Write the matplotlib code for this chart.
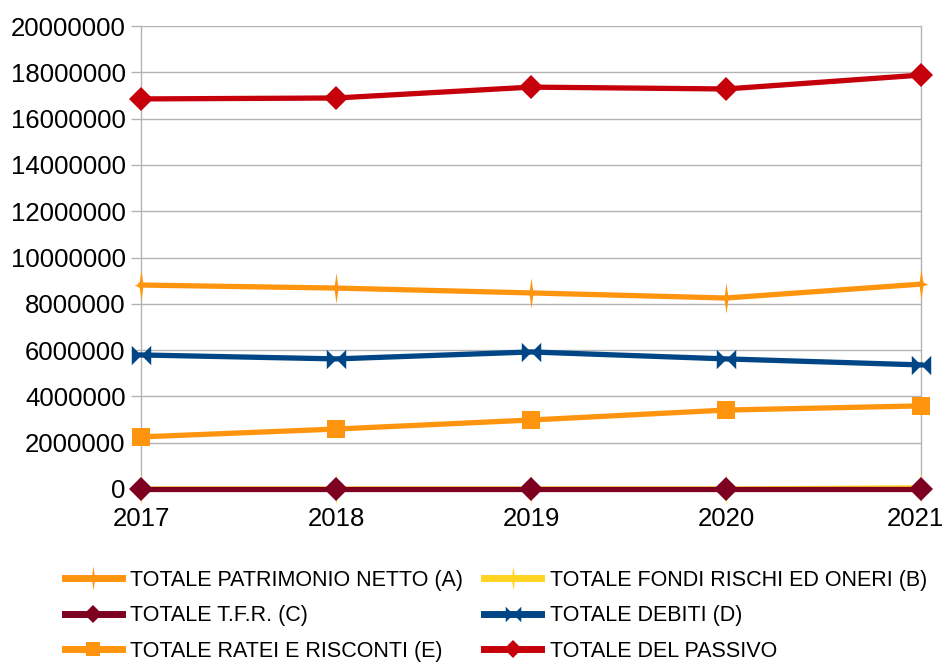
import matplotlib
matplotlib.use('Agg')
import matplotlib.pyplot as plt
import matplotlib.transforms as mtransforms
from matplotlib.lines import Line2D
from matplotlib.path import Path

plt.rcParams['font.family'] = ['Liberation Sans', 'DejaVu Sans']

years = [2017, 2018, 2019, 2020, 2021]
patrimonio_netto = [8810000, 8680000, 8470000, 8250000, 8850000]
fondi_rischi = [0, 0, 0, 0, 50000]
tfr = [0, 0, 0, 0, 0]
debiti = [5790000, 5620000, 5920000, 5620000, 5360000]
ratei_risconti = [2250000, 2590000, 2980000, 3410000, 3590000]
totale_passivo = [16850000, 16890000, 17360000, 17280000, 17880000]

labels = ['TOTALE PATRIMONIO NETTO (A)', 'TOTALE FONDI RISCHI ED ONERI (B)',
          'TOTALE T.F.R. (C)', 'TOTALE DEBITI (D)',
          'TOTALE RATEI E RISCONTI (E)', 'TOTALE DEL PASSIVO']

# thin 4-point star, long vertical arms
star = Path([(0, 1), (0.12, 0.12), (0.45, 0), (0.12, -0.12), (0, -1),
             (-0.12, -0.12), (-0.45, 0), (-0.12, 0.12), (0, 1)],
            [Path.MOVETO] + [Path.LINETO] * 7 + [Path.CLOSEPOLY])
# bowtie: two triangles pointing to the centre
bowtie = Path([(-1, -1), (0, 0), (-1, 1), (-1, -1),
               (1, -1), (0, 0), (1, 1), (1, -1)],
              [Path.MOVETO, Path.LINETO, Path.LINETO, Path.CLOSEPOLY,
               Path.MOVETO, Path.LINETO, Path.LINETO, Path.CLOSEPOLY])

series = [
    (patrimonio_netto, '#ff950e', star, 22),
    (fondi_rischi, '#ffd320', star, 22),
    (tfr, '#7e0021', 'D', 12),
    (debiti, '#004586', bowtie, 14),
    (ratei_risconti, '#ff950e', 's', 13),
    (totale_passivo, '#c5000b', 'D', 12),
]

fig = plt.figure(figsize=(9.45, 6.63), dpi=100)
ax = fig.add_axes([141 / 945, 1 - 489 / 663, 780 / 945, 463 / 663])

handles = []
for (vals, color, marker, ms), label in zip(series, labels):
    ax.plot(years, vals, color=color, lw=3.8, marker=marker, markersize=ms,
            markeredgewidth=0, clip_on=False, zorder=3)
    # legend keys: thicker line, smaller markers
    handles.append(Line2D([], [], color=color, lw=5, marker=marker,
                          markersize=ms * 0.8, markeredgewidth=0, label=label))

ax.set_xlim(2017, 2021)
ax.set_ylim(0, 20000000)
ax.set_xticks(years)
ax.set_yticks(range(0, 20000001, 2000000))
ax.set_yticklabels([str(v) for v in range(0, 20000001, 2000000)])
ax.grid(axis='y', color='#b3b3b3', lw=1)
ax.set_axisbelow(True)
for side in ['top', 'bottom']:
    ax.spines[side].set_visible(False)
for side in ['left', 'right']:
    ax.spines[side].set_color('#b3b3b3')
    ax.spines[side].set_linewidth(1)
ax.tick_params(axis='both', colors='#b3b3b3', length=7, width=1,
               labelcolor='black', labelsize=18.5)
ax.tick_params(axis='y', pad=4)
ax.tick_params(axis='x', pad=6)

# keep the last year label inside the figure
last = ax.get_xticklabels()[-1]
last.set_transform(last.get_transform() +
                   mtransforms.ScaledTranslation(-6 / 100, 0, fig.dpi_scale_trans))

# legend filled row by row: reorder for matplotlib's column-major layout
order = [0, 2, 4, 1, 3, 5]
fig.legend([handles[i] for i in order], [labels[i] for i in order],
           loc='upper left', bbox_to_anchor=(56 / 945, 1 - 561 / 663), ncol=2,
           frameon=False, fontsize=15.5, handlelength=2.65, handletextpad=0.38,
           columnspacing=1.0, labelspacing=0.68, borderaxespad=0, numpoints=1)

fig.savefig('out.png', dpi=100)
